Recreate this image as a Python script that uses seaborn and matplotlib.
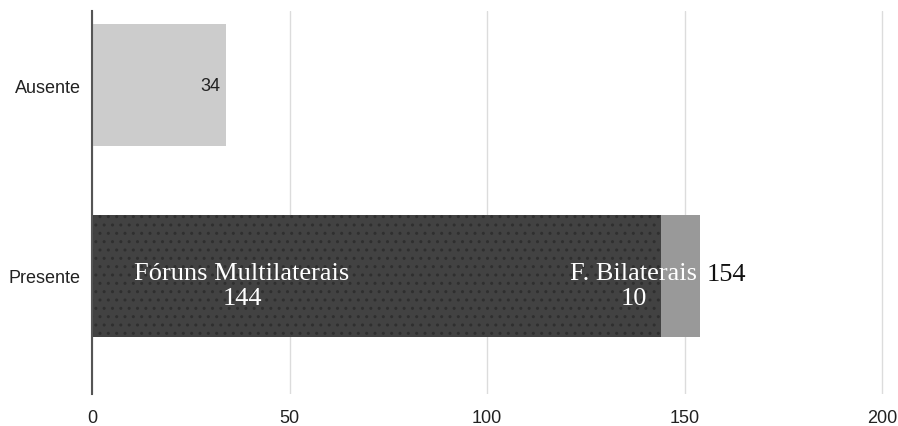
import matplotlib
matplotlib.use("Agg")
import matplotlib.pyplot as plt
import seaborn as sns
import pandas as pd

# Data
categorias = ["Ausente", "Presente"]
ausente = 34
multilaterais = 144
bilaterais = 10
ticks_x = [0, 50, 100, 150, 200]

total_presente = multilaterais + bilaterais

sns.set_theme(style="white")
plt.rcParams["font.family"] = ["Liberation Sans", "DejaVu Sans"]

fig = plt.figure(figsize=(8.98, 4.27), dpi=100)
ax = fig.add_axes([92 / 898, 1 - 395 / 427, (886 - 92) / 898, (395 - 12) / 427])

# Full-length bars (totals) first, darker segment stacked over them
totais = pd.DataFrame({"categoria": categorias, "valor": [ausente, total_presente]})
sns.barplot(data=totais, x="valor", y="categoria", order=categorias,
            hue="categoria", palette=["#cccccc", "#999999"], legend=False,
            width=0.64, orient="h", ax=ax, linewidth=0)

multi = pd.DataFrame({"categoria": ["Presente"], "valor": [multilaterais]})
sns.barplot(data=multi, x="valor", y="categoria", order=categorias,
            color="#424242", width=0.64, orient="h", ax=ax, linewidth=0)

# Dotted texture on the dark segment
for bar in ax.patches[-1:]:
    bar.set_hatch("..")
    bar.set_edgecolor("#2f2f2f")
    bar.set_linewidth(0)

ax.set_xlim(0, 201)
ax.set_ylim(1.62, -0.39)
ax.set_xticks(ticks_x)
ax.set_xlabel("")
ax.set_ylabel("")
ax.tick_params(axis="x", length=0, pad=11, labelsize=13, labelcolor="#222222")
ax.tick_params(axis="y", length=0, pad=8, labelsize=13, labelcolor="#222222")

ax.grid(axis="x", color="#dcdcdc", linewidth=1)
ax.set_axisbelow(True)
for side in ["top", "right", "bottom"]:
    ax.spines[side].set_visible(False)
ax.spines["left"].set_color("#555555")
ax.spines["left"].set_linewidth(1.5)

# Value labels
ax.text(ausente - 1.5, 0, str(ausente), ha="right", va="center",
        fontsize=13, color="#222222", fontweight="medium")

serif = ["Liberation Serif", "DejaVu Serif"]
ax.text(38, 1.05, f"Fóruns Multilaterais\n{multilaterais}", ha="center",
        va="center", fontsize=19, color="white", family=serif, linespacing=1.15)
ax.text(total_presente - 0.8, 1.05, f"F. Bilaterais\n{bilaterais}", ha="right",
        va="center", fontsize=19, color="white", family=serif, linespacing=1.15,
        multialignment="center")
ax.text(total_presente + 1.5, 0.99, str(total_presente), ha="left", va="center",
        fontsize=19, color="#111111", family=serif)

fig.savefig("out.png", dpi=100)
